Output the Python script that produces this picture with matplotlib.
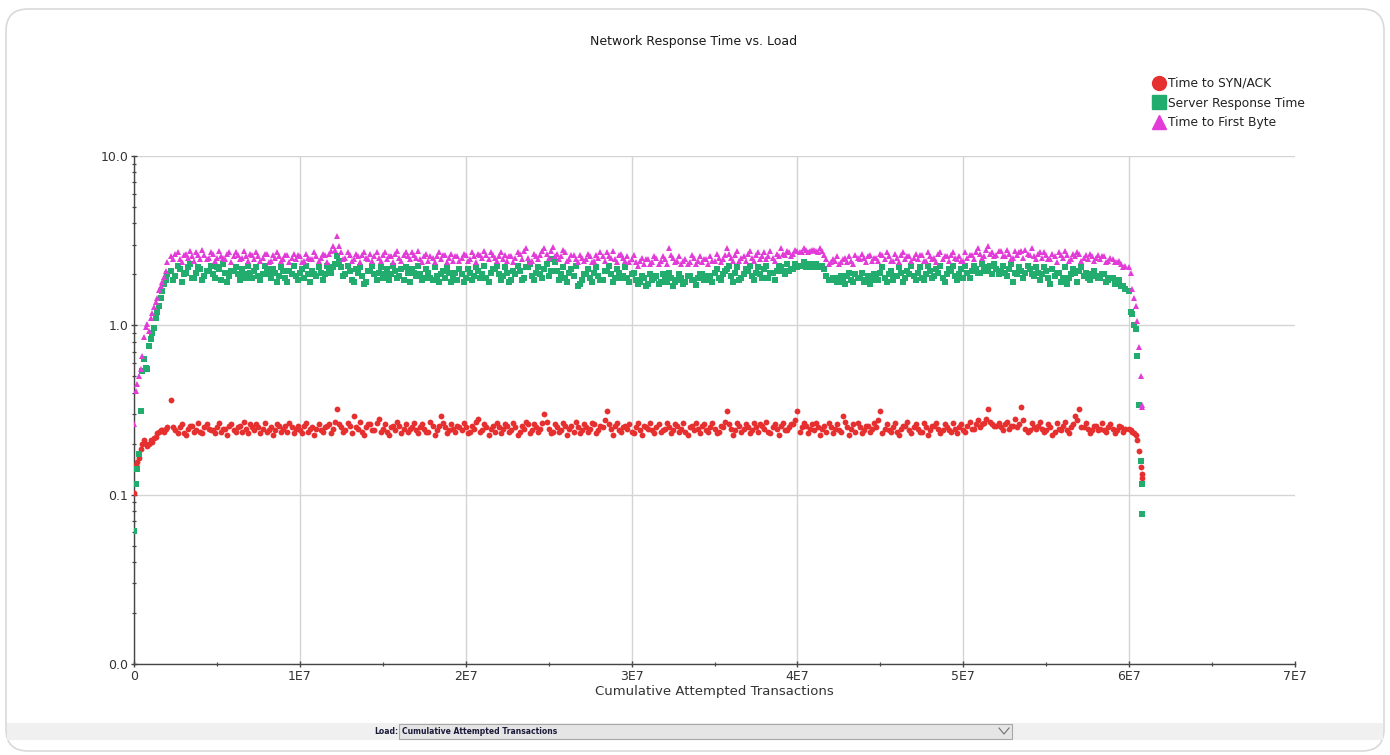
import matplotlib
matplotlib.use("Agg")
import matplotlib.pyplot as plt
import numpy as np
from matplotlib.lines import Line2D
from matplotlib.patches import FancyBboxPatch, Rectangle
from matplotlib.ticker import FixedLocator, FuncFormatter, LogLocator, NullFormatter, MultipleLocator

# ---- data (response times in seconds, load in cumulative attempted transactions) ----
# start-up ramp, x in millions of transactions
RAMP_X_M = [0.0, 0.1, 0.2, 0.3, 0.4, 0.5, 0.6, 0.7, 0.8, 0.9,
            1.0, 1.1, 1.2, 1.3, 1.4, 1.5, 1.6, 1.7, 1.8, 1.9, 2.0]
RAMP_SYN = [0.102, 0.15, 0.155, 0.165, 0.185, 0.20, 0.21, 0.20, 0.195, 0.20,
            0.21, 0.205, 0.215, 0.22, 0.23, 0.235, 0.24, 0.24, 0.235, 0.245, 0.25]
RAMP_SRV = [0.061, 0.116, 0.142, 0.175, 0.31, 0.54, 0.63, 0.56, 0.55, 0.75,
            0.83, 0.90, 0.96, 1.1, 1.2, 1.3, 1.45, 1.6, 1.75, 1.85, 2.0]
RAMP_TTFB = [0.26, 0.41, 0.45, 0.50, 0.55, 0.66, 0.85, 0.98, 1.02, 0.92,
             1.1, 1.18, 1.28, 1.38, 1.45, 1.62, 1.7, 1.8, 1.92, 2.1, 2.35]

# steady state, sampled every 0.25M transactions from 2.25M (set A)
# and in between those, from 2.375M (set B)
PLATEAU_A_START_M = 2.25
PLATEAU_B_START_M = 2.375
PLATEAU_STEP_M = 0.25

PLATEAU_A_SYN = [
    0.36, 0.24, 0.25, 0.23, 0.245, 0.255, 0.24, 0.235, 0.25, 0.245,
    0.24, 0.25, 0.235, 0.245, 0.255, 0.24, 0.25, 0.235, 0.245, 0.26,
    0.24, 0.25, 0.245, 0.235, 0.25, 0.24, 0.255, 0.245, 0.235, 0.25,
    0.245, 0.24, 0.255, 0.235, 0.25, 0.245, 0.24, 0.25, 0.26, 0.245,
    0.32, 0.25, 0.24, 0.255, 0.29, 0.245, 0.235, 0.25, 0.26, 0.24,
    0.28, 0.245, 0.235, 0.25, 0.24, 0.255, 0.245, 0.235, 0.25, 0.24,
    0.25, 0.245, 0.235, 0.255, 0.24, 0.29, 0.25, 0.24, 0.245, 0.255,
    0.24, 0.25, 0.235, 0.245, 0.28, 0.24, 0.25, 0.245, 0.235, 0.25,
    0.245, 0.255, 0.24, 0.25, 0.235, 0.245, 0.26, 0.24, 0.25, 0.245,
    0.30, 0.245, 0.235, 0.25, 0.24, 0.255, 0.245, 0.235, 0.25, 0.24,
    0.25, 0.245, 0.26, 0.24, 0.25, 0.31, 0.245, 0.255, 0.24, 0.25,
    0.245, 0.235, 0.25, 0.24, 0.255, 0.245, 0.24, 0.25, 0.235, 0.245,
    0.25, 0.24, 0.255, 0.245, 0.235, 0.25, 0.24, 0.245, 0.255, 0.24,
    0.25, 0.245, 0.235, 0.25, 0.31, 0.245, 0.24, 0.255, 0.245, 0.25,
    0.24, 0.25, 0.26, 0.245, 0.235, 0.25, 0.245, 0.255, 0.24, 0.25,
    0.26, 0.31, 0.25, 0.255, 0.245, 0.24, 0.25, 0.245, 0.235, 0.25,
    0.245, 0.24, 0.29, 0.25, 0.245, 0.235, 0.25, 0.24, 0.255, 0.245,
    0.25, 0.31, 0.245, 0.24, 0.25, 0.235, 0.245, 0.255, 0.24, 0.25,
    0.245, 0.235, 0.25, 0.24, 0.255, 0.245, 0.24, 0.25, 0.235, 0.245,
    0.25, 0.24, 0.255, 0.245, 0.26, 0.25, 0.265, 0.32, 0.26, 0.255,
    0.25, 0.26, 0.245, 0.255, 0.25, 0.33, 0.245, 0.24, 0.25, 0.255,
    0.245, 0.24, 0.25, 0.235, 0.245, 0.255, 0.24, 0.25, 0.29, 0.32,
    0.25, 0.245, 0.24, 0.255, 0.245, 0.24, 0.25, 0.245, 0.24, 0.25, 0.245,
]
PLATEAU_B_SYN = [
    0.25, 0.23, 0.26, 0.225, 0.255, 0.235, 0.265, 0.23, 0.26, 0.24,
    0.23, 0.265, 0.245, 0.225, 0.26, 0.235, 0.255, 0.27, 0.23, 0.25,
    0.26, 0.23, 0.265, 0.24, 0.225, 0.26, 0.235, 0.255, 0.265, 0.23,
    0.255, 0.23, 0.265, 0.245, 0.225, 0.26, 0.235, 0.255, 0.23, 0.27,
    0.26, 0.235, 0.265, 0.23, 0.25, 0.27, 0.225, 0.26, 0.24, 0.265,
    0.235, 0.26, 0.225, 0.255, 0.27, 0.23, 0.26, 0.245, 0.265, 0.23,
    0.26, 0.235, 0.27, 0.225, 0.255, 0.265, 0.23, 0.26, 0.235, 0.25,
    0.265, 0.23, 0.255, 0.27, 0.235, 0.26, 0.225, 0.255, 0.265, 0.23,
    0.26, 0.235, 0.265, 0.225, 0.255, 0.27, 0.23, 0.26, 0.235, 0.265,
    0.27, 0.23, 0.26, 0.235, 0.265, 0.225, 0.255, 0.27, 0.23, 0.26,
    0.235, 0.265, 0.23, 0.255, 0.275, 0.26, 0.225, 0.265, 0.235, 0.255,
    0.26, 0.23, 0.265, 0.225, 0.25, 0.265, 0.23, 0.26, 0.24, 0.265,
    0.23, 0.26, 0.235, 0.265, 0.225, 0.255, 0.265, 0.23, 0.26, 0.235,
    0.265, 0.23, 0.255, 0.27, 0.26, 0.225, 0.265, 0.235, 0.26, 0.23,
    0.265, 0.235, 0.255, 0.27, 0.23, 0.26, 0.225, 0.265, 0.24, 0.26,
    0.275, 0.235, 0.265, 0.23, 0.26, 0.265, 0.225, 0.255, 0.265, 0.23,
    0.26, 0.235, 0.27, 0.225, 0.26, 0.265, 0.23, 0.255, 0.235, 0.265,
    0.275, 0.23, 0.26, 0.235, 0.265, 0.225, 0.255, 0.27, 0.23, 0.26,
    0.235, 0.265, 0.225, 0.255, 0.265, 0.23, 0.26, 0.24, 0.265, 0.23,
    0.26, 0.235, 0.27, 0.245, 0.275, 0.26, 0.28, 0.27, 0.255, 0.265,
    0.24, 0.27, 0.255, 0.28, 0.26, 0.275, 0.235, 0.265, 0.245, 0.27,
    0.235, 0.26, 0.225, 0.265, 0.24, 0.27, 0.23, 0.26, 0.275, 0.25,
    0.265, 0.23, 0.255, 0.24, 0.265, 0.235, 0.26, 0.23, 0.255, 0.235,
]
PLATEAU_A_SRV = [
    2.1, 1.95, 2.15, 2.0, 2.2, 1.9, 2.05, 2.15, 1.95, 2.1,
    2.0, 2.2, 1.85, 2.05, 1.95, 2.1, 2.0, 2.15, 1.9, 2.05,
    2.1, 1.95, 2.0, 2.15, 1.9, 2.05, 1.95, 2.1, 1.8, 2.0,
    1.95, 2.05, 1.9, 2.0, 2.1, 1.95, 2.05, 2.0, 2.15, 2.2,
    2.55, 2.2, 2.0, 2.1, 1.8, 2.05, 1.95, 1.8, 2.1, 2.0,
    2.05, 1.9, 2.15, 2.0, 2.1, 1.95, 1.85, 2.05, 2.15, 1.95,
    2.0, 1.9, 2.05, 1.85, 1.95, 2.0, 1.9, 2.05, 1.95, 1.85,
    2.0, 1.9, 2.05, 1.95, 2.1, 2.0, 1.9, 2.05, 2.15, 2.0,
    1.95, 2.05, 1.85, 2.0, 2.1, 1.9, 2.2, 1.95, 2.05, 2.0,
    2.15, 1.95, 2.45, 2.1, 2.0, 1.9, 2.05, 1.95, 1.7, 1.85,
    2.0, 1.9, 2.05, 1.95, 1.85, 2.1, 2.0, 1.9, 2.05, 1.95,
    1.9, 2.0, 1.85, 1.8, 1.9, 1.75, 1.85, 1.95, 1.8, 1.9,
    2.05, 1.7, 1.85, 1.9, 1.8, 1.95, 1.85, 1.9, 2.0, 1.85,
    1.95, 2.05, 1.9, 2.0, 2.15, 1.95, 2.05, 1.85, 2.0, 2.1,
    1.95, 2.05, 2.0, 2.15, 1.9, 2.05, 2.1, 2.2, 2.0, 2.1,
    2.15, 2.2, 2.25, 2.2, 2.3, 2.25, 2.2, 2.25, 1.95, 1.85,
    1.9, 1.8, 1.85, 1.95, 1.85, 2.0, 1.9, 1.8, 1.95, 1.85,
    1.95, 2.05, 1.9, 2.0, 1.85, 1.95, 2.05, 1.9, 2.0, 1.95,
    2.05, 1.9, 2.0, 2.1, 1.95, 2.05, 1.9, 2.0, 2.1, 1.95,
    2.0, 1.9, 2.05, 2.1, 2.15, 2.05, 2.2, 2.1, 2.0, 2.15,
    2.1, 2.05, 2.15, 1.8, 2.0, 2.1, 2.05, 2.15, 1.95, 2.05,
    2.0, 2.1, 1.75, 1.95, 2.05, 1.9, 1.75, 2.0, 2.05, 2.1,
    1.95, 1.9, 2.0, 1.95, 1.9, 2.0, 1.85, 1.9, 1.8, 1.7, 1.65,
]
PLATEAU_B_SRV = [
    1.85, 2.25, 1.8, 2.05, 2.3, 1.9, 2.2, 1.85, 2.1, 2.25,
    1.9, 2.15, 2.3, 1.8, 2.1, 2.2, 1.85, 2.0, 2.25, 1.9,
    2.2, 1.85, 2.25, 2.0, 2.15, 1.8, 2.2, 1.9, 2.1, 2.25,
    1.85, 2.15, 2.25, 1.8, 2.0, 2.2, 1.85, 2.25, 2.05, 2.3,
    2.4, 1.95, 2.25, 1.85, 2.15, 2.2, 1.75, 2.1, 2.25, 1.85,
    2.2, 2.0, 1.85, 2.25, 1.9, 2.15, 2.2, 1.8, 2.05, 2.25,
    1.85, 2.15, 1.9, 2.2, 1.8, 2.1, 2.2, 1.8, 2.05, 2.15,
    1.8, 2.15, 1.85, 2.2, 1.9, 2.25, 1.8, 2.15, 2.25, 1.85,
    2.2, 1.8, 2.1, 2.25, 1.85, 2.2, 2.3, 1.85, 2.2, 1.9,
    2.3, 2.1, 2.35, 1.85, 2.2, 1.8, 2.15, 2.25, 1.75, 2.0,
    2.15, 1.8, 2.2, 1.85, 2.1, 2.25, 1.8, 2.15, 1.9, 2.2,
    1.8, 2.05, 1.75, 1.95, 1.7, 2.0, 1.9, 1.75, 2.0, 1.8,
    1.9, 1.8, 2.0, 1.75, 1.95, 1.85, 1.72, 2.0, 1.85, 1.95,
    1.8, 2.15, 1.85, 2.1, 2.25, 1.8, 2.2, 1.9, 2.15, 2.25,
    1.85, 2.2, 1.9, 2.25, 2.05, 1.85, 2.25, 2.1, 2.3, 2.15,
    2.3, 2.25, 2.35, 2.25, 2.2, 2.3, 2.25, 2.15, 1.85, 1.9,
    1.8, 1.95, 1.75, 2.05, 1.8, 1.9, 2.05, 1.85, 1.75, 2.0,
    1.85, 2.2, 1.8, 2.1, 1.95, 2.2, 1.8, 2.1, 2.25, 1.85,
    2.2, 1.85, 2.25, 1.9, 2.15, 2.25, 1.8, 2.15, 2.25, 1.85,
    2.15, 2.25, 1.9, 2.25, 2.05, 2.3, 2.1, 2.25, 2.3, 2.0,
    2.25, 1.95, 2.3, 2.05, 2.2, 1.9, 2.25, 2.0, 2.2, 1.85,
    2.2, 1.9, 2.15, 2.05, 1.8, 2.2, 1.9, 2.15, 1.8, 2.2,
    2.05, 1.85, 2.1, 1.9, 2.0, 1.8, 1.9, 1.75, 1.85, 1.7,
]
PLATEAU_A_TTFB = [
    2.55, 2.65, 2.45, 2.6, 2.5, 2.55, 2.7, 2.45, 2.6, 2.5,
    2.65, 2.5, 2.55, 2.45, 2.7, 2.55, 2.6, 2.5, 2.55, 2.65,
    2.45, 2.55, 2.5, 2.65, 2.4, 2.5, 2.55, 2.45, 2.6, 2.5,
    2.45, 2.55, 2.4, 2.5, 2.45, 2.55, 2.5, 2.6, 2.65, 2.95,
    3.35, 2.7, 2.5, 2.6, 2.45, 2.55, 2.6, 2.5, 2.65, 2.55,
    2.5, 2.6, 2.45, 2.55, 2.65, 2.5, 2.6, 2.55, 2.7, 2.5,
    2.45, 2.55, 2.4, 2.5, 2.55, 2.45, 2.6, 2.5, 2.4, 2.55,
    2.5, 2.6, 2.45, 2.55, 2.65, 2.5, 2.6, 2.7, 2.5, 2.55,
    2.45, 2.4, 2.55, 2.5, 2.65, 2.75, 2.5, 2.4, 2.55, 2.6,
    2.85, 2.5, 2.9, 2.65, 2.55, 2.7, 2.45, 2.6, 2.35, 2.5,
    2.45, 2.55, 2.4, 2.5, 2.55, 2.7, 2.5, 2.45, 2.6, 2.5,
    2.55, 2.45, 2.35, 2.4, 2.3, 2.45, 2.35, 2.5, 2.4, 2.45,
    2.85, 2.5, 2.4, 2.3, 2.45, 2.35, 2.5, 2.4, 2.35, 2.45,
    2.55, 2.4, 2.5, 2.45, 2.85, 2.5, 2.6, 2.4, 2.55, 2.65,
    2.5, 2.6, 2.45, 2.7, 2.55, 2.5, 2.65, 2.85, 2.6, 2.7,
    2.65, 2.75, 2.7, 2.8, 2.75, 2.8, 2.7, 2.75, 2.45, 2.35,
    2.4, 2.3, 2.45, 2.35, 2.4, 2.6, 2.45, 2.5, 2.55, 2.4,
    2.5, 2.65, 2.45, 2.55, 2.4, 2.5, 2.6, 2.45, 2.55, 2.5,
    2.45, 2.6, 2.4, 2.55, 2.5, 2.65, 2.45, 2.55, 2.6, 2.5,
    2.55, 2.4, 2.5, 2.6, 2.7, 2.65, 2.55, 2.95, 2.7, 2.6,
    2.75, 2.55, 2.65, 2.5, 2.6, 2.75, 2.8, 2.6, 2.55, 2.65,
    2.5, 2.6, 2.45, 2.55, 2.7, 2.5, 2.6, 2.45, 2.55, 2.65,
    2.5, 2.45, 2.55, 2.5, 2.45, 2.55, 2.4, 2.45, 2.35, 2.3, 2.25,
]
PLATEAU_B_TTFB = [
    2.45, 2.7, 2.35, 2.65, 2.75, 2.4, 2.6, 2.8, 2.45, 2.7,
    2.4, 2.75, 2.5, 2.65, 2.35, 2.7, 2.45, 2.75, 2.4, 2.6,
    2.7, 2.4, 2.65, 2.35, 2.6, 2.7, 2.4, 2.6, 2.35, 2.65,
    2.6, 2.35, 2.65, 2.45, 2.7, 2.4, 2.65, 2.35, 2.75, 2.8,
    2.95, 2.45, 2.7, 2.4, 2.65, 2.35, 2.7, 2.45, 2.4, 2.7,
    2.4, 2.7, 2.55, 2.35, 2.75, 2.4, 2.7, 2.45, 2.6, 2.75,
    2.35, 2.65, 2.55, 2.35, 2.7, 2.6, 2.35, 2.65, 2.55, 2.4,
    2.65, 2.4, 2.7, 2.35, 2.6, 2.75, 2.45, 2.6, 2.4, 2.7,
    2.6, 2.55, 2.35, 2.7, 2.45, 2.85, 2.35, 2.65, 2.45, 2.75,
    2.65, 2.75, 2.55, 2.45, 2.8, 2.4, 2.6, 2.45, 2.6, 2.4,
    2.65, 2.35, 2.6, 2.7, 2.4, 2.55, 2.75, 2.35, 2.65, 2.4,
    2.35, 2.6, 2.25, 2.5, 2.45, 2.3, 2.55, 2.3, 2.55, 2.3,
    2.6, 2.35, 2.55, 2.4, 2.3, 2.6, 2.3, 2.55, 2.45, 2.3,
    2.4, 2.65, 2.35, 2.6, 2.65, 2.4, 2.75, 2.5, 2.4, 2.75,
    2.4, 2.7, 2.55, 2.45, 2.75, 2.4, 2.55, 2.65, 2.75, 2.55,
    2.8, 2.7, 2.85, 2.7, 2.8, 2.75, 2.85, 2.6, 2.3, 2.45,
    2.55, 2.35, 2.5, 2.55, 2.3, 2.5, 2.65, 2.35, 2.6, 2.5,
    2.4, 2.6, 2.7, 2.4, 2.65, 2.35, 2.7, 2.55, 2.4, 2.65,
    2.6, 2.4, 2.7, 2.45, 2.35, 2.7, 2.55, 2.4, 2.7, 2.45,
    2.4, 2.7, 2.6, 2.45, 2.85, 2.5, 2.8, 2.65, 2.55, 2.75,
    2.55, 2.8, 2.45, 2.75, 2.7, 2.5, 2.65, 2.85, 2.45, 2.7,
    2.7, 2.45, 2.65, 2.35, 2.6, 2.75, 2.4, 2.65, 2.7, 2.4,
    2.6, 2.65, 2.4, 2.6, 2.55, 2.35, 2.5, 2.35, 2.4, 2.2,
]

# ramp-down at the end of the run
TAIL_X_M = [60.0, 60.1, 60.2, 60.3, 60.4, 60.5, 60.6, 60.7, 60.75, 60.78]
TAIL_SYN = [0.245, 0.24, 0.235, 0.23, 0.225, 0.21, 0.18, 0.145, 0.133, 0.125]
TAIL_SRV = [1.6, 1.2, 1.17, 1.0, 0.95, 0.66, 0.34, 0.157, 0.116, 0.077]
TAIL_TTFB = [2.2, 2.05, 1.65, 1.45, 1.3, 1.06, 0.74, 0.5, 0.34, 0.33]

SERIES_NAMES = ["Time to SYN/ACK", "Server Response Time", "Time to First Byte"]
Y_TICKS = [0.01, 0.1, 1.0, 10.0]
Y_TICK_LABELS = ["0.0", "0.1", "1.0", "10.0"]
X_TICK_LABELS = ["0", "1E7", "2E7", "3E7", "4E7", "5E7", "6E7", "7E7"]

RED = "#e5302f"
GREEN = "#22ad6f"
MAGENTA = "#e33bd8"
AXIS_C = "#454545"

plt.rcParams["font.family"] = ["DejaVu Sans"]

xa = PLATEAU_A_START_M + PLATEAU_STEP_M * np.arange(len(PLATEAU_A_SYN))
xb = PLATEAU_B_START_M + PLATEAU_STEP_M * np.arange(len(PLATEAU_B_SYN))
x = np.concatenate([RAMP_X_M, xa, xb, TAIL_X_M]) * 1e6
syn = np.concatenate([RAMP_SYN, PLATEAU_A_SYN, PLATEAU_B_SYN, TAIL_SYN])
srv = np.concatenate([RAMP_SRV, PLATEAU_A_SRV, PLATEAU_B_SRV, TAIL_SRV])
ttfb = np.concatenate([RAMP_TTFB, PLATEAU_A_TTFB, PLATEAU_B_TTFB, TAIL_TTFB])

fig = plt.figure(figsize=(13.9, 7.55), dpi=100)

# rounded panel border and the load selector bar (pixel coordinates)
fig.patches.append(FancyBboxPatch((6, 4), 1378, 742,
                                  boxstyle="round,pad=0,rounding_size=22",
                                  transform=None, facecolor="white",
                                  edgecolor="#d9d9d9", linewidth=1.2, zorder=-10))
fig.patches.append(Rectangle((7, 15), 1376, 17, transform=None,
                             facecolor="#f0f0f0", edgecolor="none", zorder=-9))
fig.patches.append(Rectangle((399, 16), 613, 15, transform=None,
                             facecolor="#e5e5e5", edgecolor="#a8a8a8",
                             linewidth=0.8, zorder=-8))
fig.text(398 / 1390, 24 / 755, "Load:", ha="right", va="center",
         fontsize=5.5, fontweight="bold", color="#1a1a3a")
fig.text(402 / 1390, 24 / 755, "Cumulative Attempted Transactions", ha="left",
         va="center", fontsize=5.5, fontweight="bold", color="#1a1a3a")
fig.lines.append(Line2D([999 / 1390, 1004 / 1390, 1009 / 1390],
                        [27 / 755, 21 / 755, 27 / 755],
                        transform=fig.transFigure, color="#707070", linewidth=0.8))

ax = fig.add_axes([134 / 1390, 1 - 664 / 755, 1161 / 1390, 508 / 755])
ax.set_zorder(5)
ax.set_facecolor("none")

ax.plot(x, syn, linestyle="none", marker="o", markersize=4.2,
        markeredgewidth=0, color=RED, zorder=3)
ax.plot(x, srv, linestyle="none", marker="s", markersize=3.9,
        markeredgewidth=0, color=GREEN, zorder=4)
ax.plot(x, ttfb, linestyle="none", marker="^", markersize=4.5,
        markeredgewidth=0, color=MAGENTA, zorder=5)

ax.set_yscale("log")
ax.set_ylim(0.01, 10)
ax.set_xlim(0, 7e7)
ax.yaxis.set_major_locator(FixedLocator(Y_TICKS))
ax.yaxis.set_major_formatter(FuncFormatter(
    lambda v, p: Y_TICK_LABELS[p] if p is not None and p < len(Y_TICK_LABELS) else ""))
ax.yaxis.set_minor_locator(LogLocator(base=10, subs=np.arange(2, 10)))
ax.yaxis.set_minor_formatter(NullFormatter())
ax.set_xticks(np.arange(0, 8) * 1e7)
ax.set_xticklabels(X_TICK_LABELS)
ax.xaxis.set_minor_locator(MultipleLocator(5e6))

ax.grid(True, which="major", color="#d4d4d4", linewidth=1.0, zorder=0)
ax.get_xgridlines()[-1].set_visible(False)
ax.set_axisbelow(True)

for side in ["top", "right"]:
    ax.spines[side].set_visible(False)
for side in ["left", "bottom"]:
    ax.spines[side].set_color(AXIS_C)
    ax.spines[side].set_linewidth(1.0)

ax.tick_params(which="major", direction="inout", length=5, width=1.0,
               color=AXIS_C, labelcolor="#333333", labelsize=9, pad=1.5)
ax.tick_params(which="minor", direction="inout", length=3.5, width=0.9, color=AXIS_C)

ax.set_xlabel("Cumulative Attempted Transactions", fontsize=9.5, color="#333333", labelpad=2)
fig.text(694 / 1390, 1 - 41 / 755, "Network Response Time vs. Load",
         ha="center", va="center", fontsize=9, color="#1a1a1a")

handles = [
    Line2D([], [], linestyle="none", marker="o", markersize=10, color=RED),
    Line2D([], [], linestyle="none", marker="s", markersize=9.5, color=GREEN),
    Line2D([], [], linestyle="none", marker="^", markersize=10, color=MAGENTA),
]
fig.legend(handles, SERIES_NAMES, loc="upper left",
           bbox_to_anchor=(1153 / 1390, 1 - 77 / 755), frameon=False,
           fontsize=8.8, handlelength=0.9, handletextpad=0.3,
           labelspacing=0.55, borderpad=0, borderaxespad=0,
           labelcolor="#222222")

fig.savefig("out.png", dpi=100)
